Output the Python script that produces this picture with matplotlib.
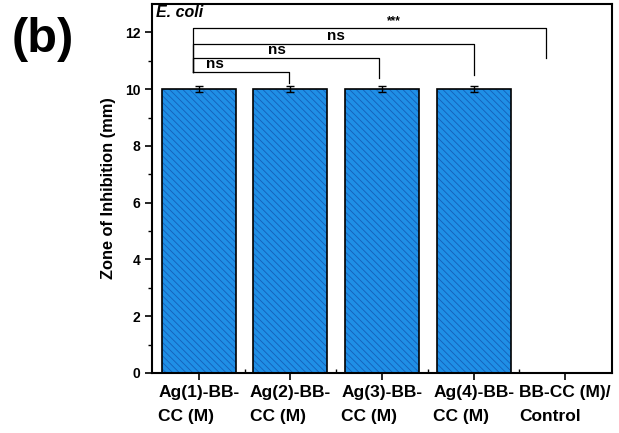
import matplotlib
matplotlib.use('Agg')
import matplotlib.pyplot as plt
import numpy as np

plt.rcParams['font.family'] = ['Liberation Sans', 'DejaVu Sans']
plt.rcParams['font.weight'] = 'bold'
plt.rcParams['axes.labelweight'] = 'bold'
plt.rcParams['hatch.linewidth'] = 0.6

# data
groups = ['Ag(1)-BB-\nCC (M)', 'Ag(2)-BB-\nCC (M)', 'Ag(3)-BB-\nCC (M)',
          'Ag(4)-BB-\nCC (M)', 'BB-CC (M)/\nControl']
zone = [10.0, 10.0, 10.0, 10.0, 0.0]
zone_err = [0.1, 0.1, 0.1, 0.1, 0.0]

# significance brackets: (left pos, right pos, line height, right drop, label)
brackets = [
    (0.94, 1.98, 10.6, 10.2, 'ns'),
    (0.94, 2.97, 11.1, 10.4, 'ns'),
    (0.94, 4.00, 11.6, 10.5, 'ns'),
    (0.94, 4.79, 12.15, 11.1, '***'),
]
label_x = [1.08, 1.85, 2.5, 3.13]

fig = plt.figure(figsize=(6.19, 4.33), dpi=100)
ax = fig.add_axes([0.2456, 0.1386, 0.7431, 0.8522])

x = np.arange(1, len(groups) + 1)
ax.bar(x, zone, width=0.81, color='#1f8fe6', edgecolor='#1560b8',
       linewidth=0, hatch='\\\\\\\\\\', zorder=2)
ax.bar(x, zone, width=0.81, fill=False, edgecolor='black',
       linewidth=1.2, zorder=3)
ax.errorbar(x[:4], zone[:4], yerr=zone_err[:4], fmt='none', ecolor='black',
            elinewidth=1, capsize=3, capthick=1, zorder=4)

# brackets
for (l, r, h, drop, lab), lx in zip(brackets, label_x):
    ax.plot([l, l, r, r], [10.6, h, h, drop], color='black', lw=0.9, zorder=5)
    if lab == '***':
        ax.text(lx, h + 0.05, lab, fontsize=8.5, ha='center', va='bottom')
    else:
        ax.text(lx, h + 0.03, lab, fontsize=11, ha='left' if lx < 1.5 else 'center',
                va='bottom')

ax.text(0.008, 0.997, 'E. coli', fontsize=11.5, style='italic',
        ha='left', va='top', transform=ax.transAxes)

ax.set_xlim(0.49, 5.51)
ax.set_ylim(0, 13)
ax.set_xticks(x)
ax.set_xticklabels(groups, fontsize=12.5, ha='center', multialignment='left',
                   linespacing=1.75)
ax.set_xticks(np.arange(1.5, 5.5, 1), minor=True)
ax.set_yticks(np.arange(0, 13, 2))
ax.set_yticks(np.arange(1, 13, 2), minor=True)
ax.tick_params(axis='y', which='major', direction='out', length=5, width=1.2,
               labelsize=10)
ax.tick_params(axis='y', which='minor', direction='out', length=3, width=1)
ax.tick_params(axis='x', which='major', direction='out', length=5, width=1.2,
               pad=4)
ax.tick_params(axis='x', which='minor', direction='in', length=3, width=1)
for s in ax.spines.values():
    s.set_linewidth(1.5)

ax.set_ylabel('Zone of Inhibition (mm)', fontsize=11.8, labelpad=6)

fig.text(0.018, 0.96, '(b)', fontsize=35, fontweight='bold', va='top')

fig.savefig('out.png', dpi=100)
